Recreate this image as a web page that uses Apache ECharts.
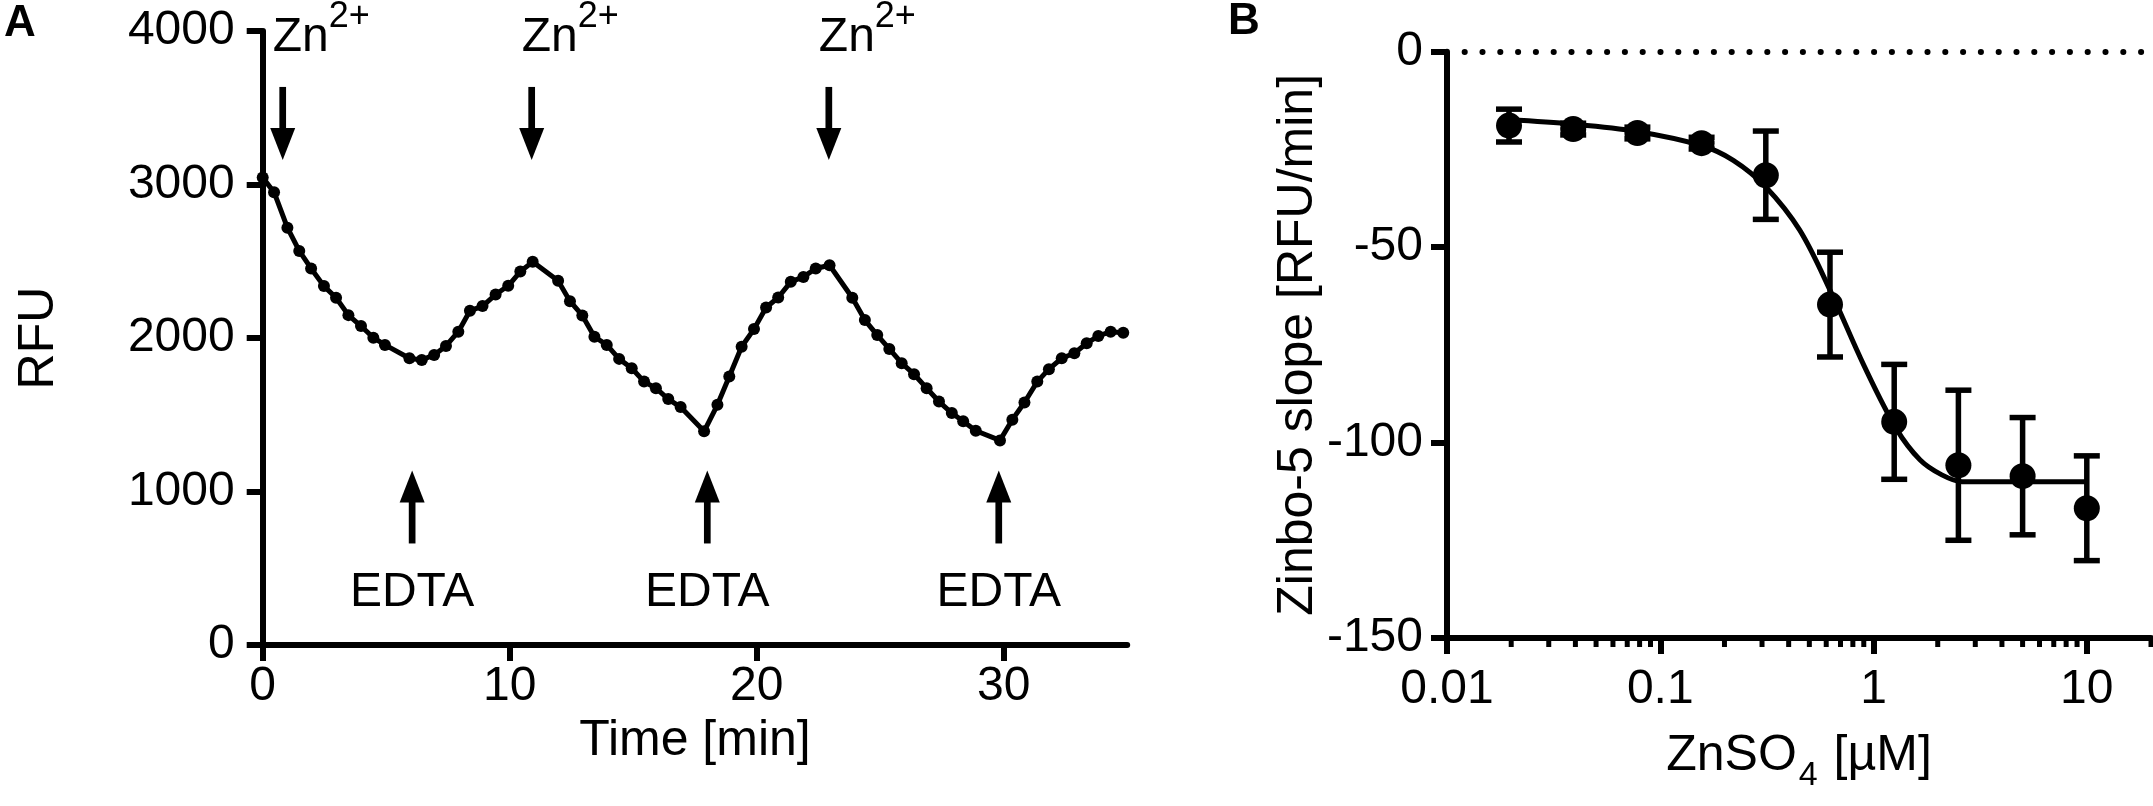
<!DOCTYPE html>
<html>
<head>
<meta charset="utf-8">
<script src="https://cdn.jsdelivr.net/npm/echarts@6/dist/echarts.min.js"></script>
<style>
html,body{margin:0;padding:0;background:#fff;}
#c{width:2153px;height:806px;}
</style>
</head>
<body>
<div id="c"></div>
<script>
// ---------- Panel A data ----------
const timeA = [0, 0.46, 1.0, 1.48, 1.96, 2.48, 2.97, 3.47, 3.98, 4.48, 4.95, 5.94, 6.44, 6.94, 7.42, 7.92, 8.39, 8.9, 9.43, 9.94, 10.43, 10.93,
  11.96, 12.44, 12.94, 13.43, 13.93, 14.43, 14.94, 15.44, 15.92, 16.42, 16.92, 17.87, 18.41, 18.89, 19.39, 19.89, 20.38, 20.87, 21.38, 21.89, 22.39, 22.95,
  23.87, 24.38, 24.88, 25.37, 25.87, 26.37, 26.88, 27.38, 27.9, 28.36, 28.87, 29.85, 30.35, 30.84, 31.36, 31.83, 32.35, 32.86, 33.36, 33.83, 34.33, 34.84];
const rfuA = [3045, 2950, 2719, 2567, 2453, 2338, 2262, 2149, 2078, 2002, 1955, 1868, 1857, 1890, 1948, 2041, 2177, 2208, 2283, 2340, 2433, 2496,
  2373, 2240, 2147, 2008, 1955, 1864, 1803, 1716, 1673, 1602, 1550, 1392, 1565, 1749, 1943, 2058, 2199, 2264, 2366, 2398, 2453, 2474,
  2262, 2117, 2019, 1929, 1836, 1764, 1673, 1586, 1511, 1457, 1396, 1333, 1468, 1580, 1716, 1797, 1868, 1901, 1966, 2013, 2041, 2034];
const znTimes = [0.81, 10.89, 22.92];
const edtaTimes = [6.05, 18.0, 29.8];
const xTicksA = [0, 10, 20, 30];

// ---------- Panel B data ----------
const concB = [0.01953125, 0.0390625, 0.078125, 0.15625, 0.3125, 0.625, 1.25, 2.5, 5, 10];
const slopeB = [-18.9, -19.8, -20.8, -23.4, -31.6, -64.7, -94.7, -105.8, -108.6, -116.8];
const sdB = [4.2, 1.5, 1.5, 1.5, 11.3, 13.4, 14.7, 19.2, 15.0, 13.4];
const fitX = [0.0195, 0.039, 0.078, 0.156, 0.22, 0.3125, 0.45, 0.63, 0.9, 1.28, 1.65, 2.08, 2.6, 5, 10];
const fitY = [-17.4, -18.5, -20.4, -24.0, -27.8, -34.6, -45.6, -61.4, -80.2, -96.5, -104.4, -108.2, -110, -110, -110];
const xMajorB = [0.01, 0.1, 1, 10];
const xMinorB = [0.02,0.03,0.04,0.05,0.06,0.07,0.08,0.09, 0.2,0.3,0.4,0.5,0.6,0.7,0.8,0.9, 2,3,4,5,6,7,8,9, 20];

const FONT = '"Liberation Sans", Arial, sans-serif';
const BLACK = '#000';
const ZN_TIP = 3160, EDTA_TIP = 1137;

const chart = echarts.init(document.getElementById('c'));

function axisCommon(extra) {
  return Object.assign({
    axisLine: {show: true, onZero: false, lineStyle: {color: BLACK, width: 6}},
    axisTick: {show: true, inside: false, length: 16, lineStyle: {color: BLACK, width: 6}},
    splitLine: {show: false},
    axisLabel: {color: BLACK, fontSize: 48, fontFamily: FONT},
    nameTextStyle: {color: BLACK, fontSize: 50, fontFamily: FONT}
  }, extra);
}

function plain(v) { return String(+(+v).toPrecision(6)); }

function arrowRender(kind) {
  return function (params, api) {
    const tipVal = kind === 'zn' ? ZN_TIP : EDTA_TIP;
    const p = api.coord([api.value(0), tipVal]);
    const x = p[0], tip = p[1];
    const L = 73, H = 32, HW = 12.5, SW = 6.7;
    const s = kind === 'zn' ? -1 : 1; // direction from tip to tail
    const children = [
      {type: 'line', shape: {x1: x, y1: tip + s * (H - 2), x2: x, y2: tip + s * L}, style: {stroke: BLACK, lineWidth: SW}},
      {type: 'polygon', shape: {points: [[x - HW, tip + s * H], [x + HW, tip + s * H], [x, tip]]}, style: {fill: BLACK}}
    ];
    if (kind === 'zn') {
      children.push({type: 'text', style: {text: 'Zn', x: x - 10, y: tip - 122.5, fill: BLACK, font: '48px ' + FONT, align: 'left', verticalAlign: 'middle'}});
      children.push({type: 'text', style: {text: '2+', x: x + 46, y: tip - 143, fill: BLACK, font: '36px ' + FONT, align: 'left', verticalAlign: 'middle'}});
    } else {
      children.push({type: 'text', style: {text: 'EDTA', x: x, y: tip + 122, fill: BLACK, font: '48px ' + FONT, align: 'center', verticalAlign: 'middle'}});
    }
    return {type: 'group', children: children};
  };
}

const option = {
  backgroundColor: '#fff',
  animation: false,
  grid: [
    {left: 262.7, top: 31, width: 864.5, height: 614, containLabel: false, outerBoundsMode: 'none'},
    {left: 1447, top: 51.7, width: 704, height: 586.3, containLabel: false, outerBoundsMode: 'none'}
  ],
  graphic: [
    {type: 'text', left: 4, top: 2, style: {text: 'A', fill: BLACK, font: 'bold 44px ' + FONT}},
    {type: 'text', left: 1228, top: 0, style: {text: 'B', fill: BLACK, font: 'bold 44px ' + FONT}}
  ],
  xAxis: [
    axisCommon({
      gridIndex: 0, type: 'value', min: 0, max: 35,
      name: 'Time [min]', nameLocation: 'middle', nameGap: 70,
      axisTick: {show: true, inside: false, length: 16, lineStyle: {color: BLACK, width: 6}, customValues: xTicksA},
      axisLabel: {color: BLACK, fontSize: 48, fontFamily: FONT, margin: 18, customValues: xTicksA, formatter: plain}
    }),
    axisCommon({
      gridIndex: 1, type: 'log', logBase: 10, min: 0.01, max: 20,
      name: '{n|ZnSO}{s|4}{n| [µM]}', nameLocation: 'middle', nameGap: 88,
      nameTextStyle: {color: BLACK, fontFamily: FONT, fontSize: 50,
        rich: {n: {fontSize: 50, fontFamily: FONT, color: BLACK, lineHeight: 56},
               s: {fontSize: 34, fontFamily: FONT, color: BLACK, lineHeight: 30, padding: [40, 2, 0, 2]}}},
      axisTick: {show: true, inside: false, length: 16, lineStyle: {color: BLACK, width: 6}, customValues: xMajorB},
      axisLabel: {color: BLACK, fontSize: 48, fontFamily: FONT, margin: 28, customValues: xMajorB, formatter: plain}
    })
  ],
  yAxis: [
    axisCommon({
      gridIndex: 0, type: 'value', min: 0, max: 4000, interval: 1000,
      name: 'RFU', nameLocation: 'middle', nameGap: 198,
      axisLabel: {color: BLACK, fontSize: 48, fontFamily: FONT, margin: 28, formatter: plain}
    }),
    axisCommon({
      gridIndex: 1, type: 'value', min: -150, max: 0, interval: 50,
      name: 'Zinbo-5 slope [RFU/min]', nameLocation: 'middle', nameGap: 120,
      axisLabel: {color: BLACK, fontSize: 48, fontFamily: FONT, margin: 24, formatter: plain}
    })
  ],
  series: [
    {
      type: 'line', xAxisIndex: 0, yAxisIndex: 0,
      data: timeA.map((t, i) => [t, rfuA[i]]),
      symbol: 'circle', symbolSize: 12, showSymbol: true,
      lineStyle: {color: BLACK, width: 5}, itemStyle: {color: BLACK, opacity: 1},
      clip: false, z: 3
    },
    {
      type: 'custom', xAxisIndex: 0, yAxisIndex: 0, clip: false,
      data: znTimes.map(t => [t]), renderItem: arrowRender('zn'), z: 4
    },
    {
      type: 'custom', xAxisIndex: 0, yAxisIndex: 0, clip: false,
      data: edtaTimes.map(t => [t]), renderItem: arrowRender('edta'), z: 4
    },
    {
      type: 'line', xAxisIndex: 1, yAxisIndex: 1,
      data: fitX.map((x, i) => [x, fitY[i]]),
      smooth: 0.35, symbol: 'none',
      lineStyle: {color: BLACK, width: 5}, z: 2,
      markLine: {
        silent: true, symbol: 'none', label: {show: false},
        lineStyle: {color: BLACK, width: 6, type: [0.1, 17.7], dashOffset: 0.15, cap: 'round', opacity: 1},
        data: [{yAxis: 0}]
      }
    },
    {
      type: 'custom', xAxisIndex: 1, yAxisIndex: 1, clip: false, z: 3,
      data: concB.map((x, i) => [x, slopeB[i], sdB[i]]),
      renderItem: function (params, api) {
        const x = api.value(0), y = api.value(1), sd = api.value(2);
        const top = api.coord([x, y + sd]), bot = api.coord([x, y - sd]);
        const cw = 13;
        return {type: 'group', children: [
          {type: 'line', shape: {x1: top[0], y1: top[1], x2: bot[0], y2: bot[1]}, style: {stroke: BLACK, lineWidth: 5.5}},
          {type: 'line', shape: {x1: top[0] - cw, y1: top[1], x2: top[0] + cw, y2: top[1]}, style: {stroke: BLACK, lineWidth: 5.5}},
          {type: 'line', shape: {x1: bot[0] - cw, y1: bot[1], x2: bot[0] + cw, y2: bot[1]}, style: {stroke: BLACK, lineWidth: 5.5}}
        ]};
      }
    },
    {
      type: 'scatter', xAxisIndex: 1, yAxisIndex: 1, z: 5,
      data: concB.map((x, i) => [x, slopeB[i]]),
      symbol: 'circle', symbolSize: 26, itemStyle: {color: BLACK, opacity: 1}
    },
    {
      type: 'custom', xAxisIndex: 1, yAxisIndex: 1, clip: false, z: 6,
      data: xMinorB.map(v => [v]),
      renderItem: function (params, api) {
        const p = api.coord([api.value(0), -150]);
        return {type: 'line', shape: {x1: p[0], y1: p[1], x2: p[0], y2: p[1] + 9}, style: {stroke: BLACK, lineWidth: 5}};
      }
    }
  ]
};
chart.setOption(option);
</script>
</body>
</html>
